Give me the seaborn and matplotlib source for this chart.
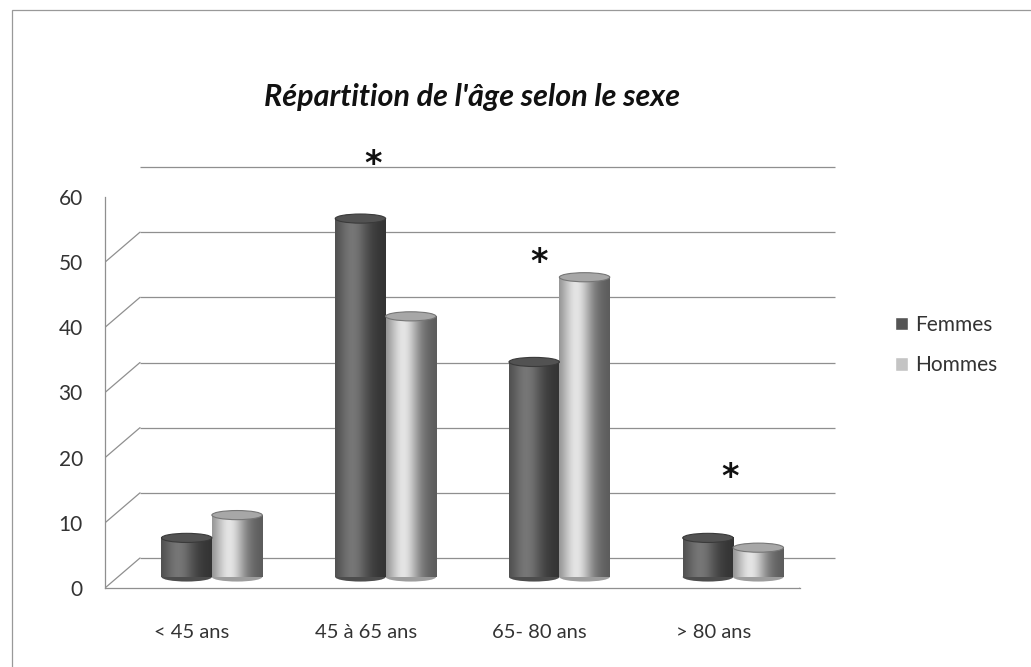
import numpy as np
import pandas as pd
import matplotlib
matplotlib.use("Agg")
import matplotlib.pyplot as plt
import matplotlib.transforms as mtransforms
from matplotlib.patches import Ellipse, Patch, Rectangle
from matplotlib.lines import Line2D
import seaborn as sns

# data
categories = ["< 45 ans", "45 à 65 ans", "65- 80 ans", "> 80 ans"]
femmes = [6, 55, 33, 6]
hommes = [9.5, 40, 46, 4.5]
yticks = [0, 10, 20, 30, 40, 50, 60]
stars_x = [1.04, 2.0, 3.1]
stars_y = [65, 50, 17]

df = pd.DataFrame({
    "age": categories * 2,
    "pct": femmes + hommes,
    "sexe": ["Femmes"] * 4 + ["Hommes"] * 4,
})

sns.set_style("white")
plt.rcParams['font.family'] = ['Lato', 'DejaVu Sans']

W, H = 1031, 667
fig = plt.figure(figsize=(W / 100, H / 100), dpi=100)
ax = fig.add_axes([105 / W, 79 / H, 695 / W, 391 / H])

colors = {"Femmes": "#606060", "Hommes": "#c4c4c4"}
sns.barplot(data=df, x="age", y="pct", hue="sexe", palette=colors,
            width=0.58, gap=0, legend=False, ax=ax, saturation=1)
ax.set_xlim(-0.5, 3.5)
ax.set_ylim(0, 60)

# 3D-ish offsets (pixels)
back = mtransforms.offset_copy(ax.transData, fig=fig, x=35, y=30, units='dots')
mid = mtransforms.offset_copy(ax.transData, fig=fig, x=20, y=11, units='dots')

grid_c = "#8f8f8f"
# back wall gridlines
ax.hlines(yticks, -0.5, 3.5, color=grid_c, lw=0.9, transform=back, zorder=0.5, clip_on=False)
# diagonals on the left wall + floor right edge
for t in yticks:
    p = ax.transData.transform((-0.5, t))
    ax.add_line(Line2D([p[0], p[0] + 35], [p[1], p[1] + 30], color=grid_c, lw=0.9,
                       transform=mtransforms.IdentityTransform(), zorder=0.5))
p = ax.transData.transform((3.5, 0))
ax.add_line(Line2D([p[0], p[0] + 35], [p[1], p[1] + 30], color=grid_c, lw=0.9,
                   transform=mtransforms.IdentityTransform(), zorder=0.5))

# cylinders: shade each bar and cap it
shade = np.linspace(0, 1, 200)
shade = 0.55 + 0.6 * np.exp(-((shade - 0.35) / 0.3) ** 2) - 0.15 * shade
bars = list(ax.patches)
for bar in bars:
    x0, w, h = bar.get_x(), bar.get_width(), bar.get_height()
    base = np.array(bar.get_facecolor()[:3])
    img = np.clip(base[None, None, :] * shade[None, :, None] + 0.05, 0, 1)
    bar.set_transform(mid)
    bar.set_zorder(2)
    bar.set_edgecolor("none")
    ax.imshow(img, extent=(x0, x0 + w, 0, h), aspect='auto', transform=mid,
              zorder=2.1, interpolation='bilinear')
    ax.add_patch(Ellipse((x0 + w / 2, 0), w, 1.4, transform=mid, zorder=1.9,
                         facecolor=base * 0.8, edgecolor="none"))
    ax.add_patch(Ellipse((x0 + w / 2, h), w, 1.4, transform=mid, zorder=2.2,
                         facecolor=np.clip(base * 0.85, 0, 1), edgecolor=base * 0.6, lw=0.8))
ax.set_xlim(-0.5, 3.5)
ax.set_ylim(0, 60)

for sx, sy in zip(stars_x, stars_y):
    ax.text(sx, sy, "*", ha="center", va="center", fontsize=24, color="#111",
            family="DejaVu Sans", weight="bold", clip_on=False)

# axes styling
for s in ["top", "right"]:
    ax.spines[s].set_visible(False)
for s in ["left", "bottom"]:
    ax.spines[s].set_color(grid_c)
    ax.spines[s].set_linewidth(0.9)
ax.set_xlabel("")
ax.set_ylabel("")
ax.set_yticks(yticks)
ax.tick_params(axis="y", labelsize=15, colors="#333", length=4, width=0.8, pad=12)
ax.tick_params(axis="y", color=grid_c)
ax.set_xticks([-0.5, 0.5, 1.5, 2.5, 3.5], labels=[])
ax.set_xticks(range(4), labels=categories, minor=True)
ax.tick_params(axis="x", which="major", length=5, width=0.8, color=grid_c)
ax.tick_params(axis="x", which="minor", length=0, labelsize=14.5, labelcolor="#333", pad=26)

fig.text(0.458, 1 - 97 / H, "Répartition de l'âge selon le sexe", ha="center", va="center",
         fontsize=22, style="italic", weight="bold", color="#111")

handles = [Patch(facecolor="#555555"), Patch(facecolor=colors["Hommes"])]
fig.legend(handles, ["Femmes", "Hommes"], loc="center left", bbox_to_anchor=(895 / W, 1 - 345 / H),
           frameon=False, fontsize=15, handlelength=0.6, handleheight=0.6, handletextpad=0.35,
           labelspacing=1.0, labelcolor="#333", borderpad=0, borderaxespad=0)

fig.patches.append(Rectangle((12 / W, -0.01), 1.0, (H - 10) / H + 0.01, transform=fig.transFigure,
                             fill=False, edgecolor="#999", lw=0.9))

fig.savefig("out.png", dpi=100)
